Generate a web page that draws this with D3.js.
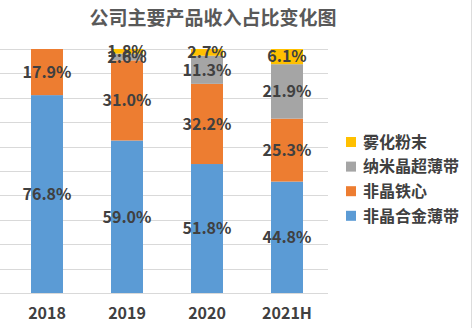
<!DOCTYPE html>
<html>
<head>
<meta charset="utf-8">
<script src="https://cdn.jsdelivr.net/npm/d3@7"></script>
<style>
  html, body { margin: 0; padding: 0; background: #ffffff; }
  svg { display: block; }
</style>
</head>
<body>
<svg id="chart" width="473" height="328"></svg>
<script>
const title = "公司主要产品收入占比变化图";
const categories = ["2018", "2019", "2020", "2021H"];
const seriesNames = ["非晶合金薄带", "非晶铁心", "纳米晶超薄带", "雾化粉末"];
const seriesColors = ["#5B9BD5", "#ED7D31", "#A5A5A5", "#FFC000"];
const amorphousStrip = [76.8, 59.0, 51.8, 44.8];
const amorphousCore = [17.9, 31.0, 32.2, 25.3];
const nanoStrip = [0, 2.6, 11.3, 21.9];
const atomizedPowder = [0, 1.8, 2.7, 6.1];
const gridTicks = [0, 0.1, 0.2, 0.3, 0.4, 0.5, 0.6, 0.7, 0.8, 0.9, 1.0];

const seriesValues = [amorphousStrip, amorphousCore, nanoStrip, atomizedPowder];
const rows = categories.map((c, i) => {
  const r = { cat: c };
  seriesNames.forEach((s, j) => { r[s] = seriesValues[j][i]; });
  return r;
});

const font = "'Noto Sans CJK SC', 'Noto Sans', sans-serif";
const textColor = "#404040";

const svg = d3.select("#chart");

const x = d3.scaleBand().domain(categories).range([7, 327]).paddingInner(0.6).paddingOuter(0.3);
const y = d3.scaleLinear().domain([0, 1]).range([293, 49]);

// gridlines
svg.append("g").selectAll("line").data(gridTicks).join("line")
  .attr("x1", 0).attr("x2", 328)
  .attr("y1", d => Math.round(y(d)) + 0.5).attr("y2", d => Math.round(y(d)) + 0.5)
  .attr("stroke", "#D9D9D9").attr("stroke-width", 1);

const stack = d3.stack().keys(seriesNames).offset(d3.stackOffsetExpand);
const stacked = stack(rows);

const layers = svg.append("g").selectAll("g").data(stacked).join("g")
  .attr("fill", (d, i) => seriesColors[i]);

layers.selectAll("rect").data(d => d).join("rect")
  .attr("x", d => x(d.data.cat))
  .attr("width", x.bandwidth())
  .attr("y", d => y(d[1]))
  .attr("height", d => Math.max(0, y(d[0]) - y(d[1])));

// labels
const labelG = svg.append("g");
stacked.forEach((layer) => {
  layer.forEach(d => {
    const v = d.data[layer.key];
    if (!v) return;
    labelG.append("text")
      .attr("x", x(d.data.cat) + x.bandwidth() / 2)
      .attr("y", (y(d[0]) + y(d[1])) / 2)
      .attr("dy", "0.36em")
      .attr("text-anchor", "middle")
      .attr("font-family", font)
      .attr("font-weight", "bold")
      .attr("font-size", 16)
      .attr("fill", textColor)
      .text(v.toFixed(1) + "%");
  });
});

// x axis
const xAxis = d3.axisBottom(x).tickSize(0).tickPadding(0);
const xg = svg.append("g").attr("transform", "translate(0,293)").call(xAxis);
xg.select(".domain").remove();
xg.selectAll("text")
  .attr("y", 20)
  .attr("dy", "0.36em")
  .attr("font-family", font)
  .attr("font-weight", "bold")
  .attr("font-size", 16)
  .attr("fill", textColor);

// title
svg.append("text")
  .attr("x", 213).attr("y", 18).attr("dy", "0.36em")
  .attr("text-anchor", "middle")
  .attr("font-family", font)
  .attr("font-weight", "bold")
  .attr("font-size", 19)
  .attr("fill", "#595959")
  .text(title);

// legend (reversed order, top = last series)
const legendItems = seriesNames.map((n, i) => ({ name: n, color: seriesColors[i] })).reverse();
const lg = svg.append("g").selectAll("g").data(legendItems).join("g")
  .attr("transform", (d, i) => `translate(346, ${142 + i * 24.6})`);
lg.append("rect").attr("x", 0).attr("y", -5).attr("width", 10).attr("height", 10)
  .attr("fill", d => d.color);
lg.append("text").attr("x", 17).attr("y", 0).attr("dy", "0.36em")
  .attr("font-family", font).attr("font-weight", "bold").attr("font-size", 16)
  .attr("fill", textColor)
  .text(d => d.name);

// right border
svg.append("line").attr("x1", 471.5).attr("x2", 471.5).attr("y1", 0).attr("y2", 328)
  .attr("stroke", "#DDDDDD").attr("stroke-width", 1);
</script>
</body>
</html>
